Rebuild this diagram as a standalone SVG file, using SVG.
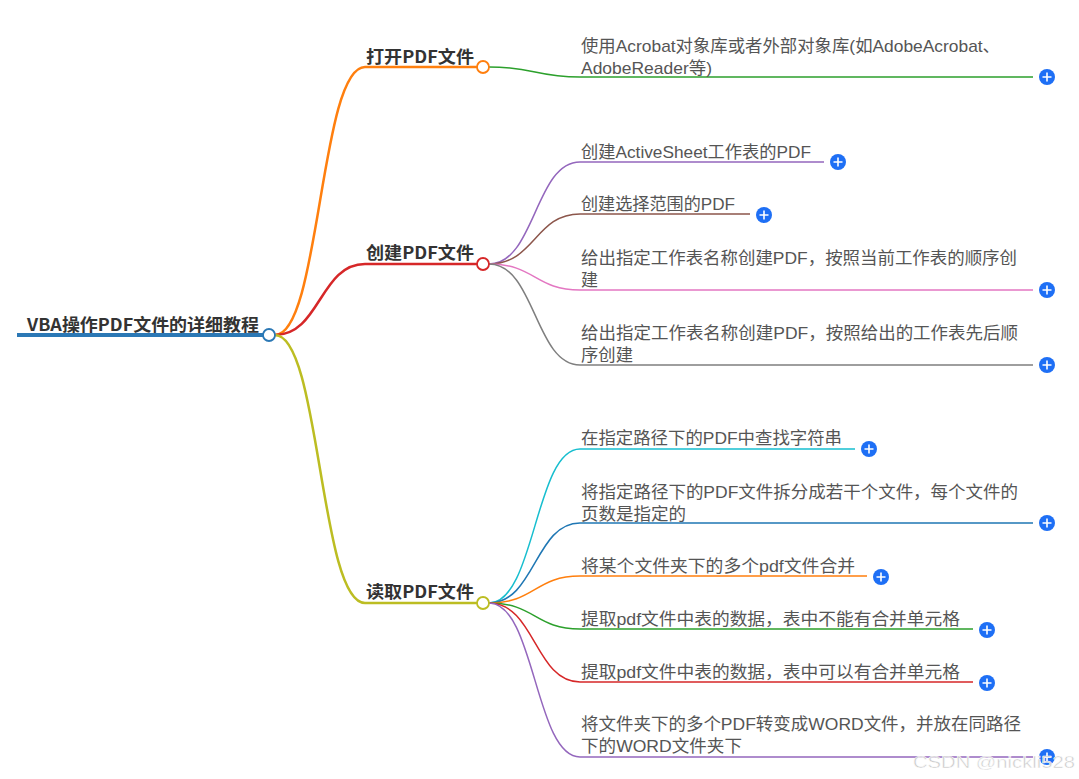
<svg xmlns="http://www.w3.org/2000/svg" width="1079" height="779" viewBox="0 0 1079 779">
<style>
text{font-family:"Noto Sans CJK SC","Liberation Sans",sans-serif;}
.root{font-size:17px;font-weight:bold;fill:#333;}
.br{font-size:17px;font-weight:bold;fill:#333;}
.leaf{font-family:"Liberation Sans","Noto Sans CJK SC",sans-serif;font-size:17px;fill:#555;}
.bl{stroke-width:2.5;fill:none;}
.ll{stroke-width:1.5;fill:none;}
.node{fill:#fff;stroke-width:1.8;}
.wm{font-family:"Liberation Sans",sans-serif;font-size:17px;fill:#c8c8c8;stroke:#fff;stroke-width:0.5;}
</style>
<defs>
<g id="p"><circle r="8" fill="#1e6ff5"/><path d="M-4.5 0H4.5M0 -4.5V4.5" stroke="#fff" stroke-width="1.6"/></g>
</defs>
<rect width="1079" height="779" fill="#fff"/>
<g id="connectors">
<path class="bl" stroke="#ff7f0e" d="M275 335C320 335 320 67 365 67H477"/>
<path class="bl" stroke="#d62728" d="M275 335C320 335 320 264 365 264H477"/>
<path class="bl" stroke="#bcbd22" d="M275 335C320 335 320 603 365 603H477"/>
<path class="ll" stroke="#2ca02c" d="M489 67C535 67 535 77 580 77H1033"/>
<path class="ll" stroke="#9467bd" d="M489 264C535 264 535 162 580 162H824"/>
<path class="ll" stroke="#8c564b" d="M489 264C535 264 535 214 580 214H750"/>
<path class="ll" stroke="#e377c2" d="M489 264C535 264 535 290 580 290H1033"/>
<path class="ll" stroke="#7f7f7f" d="M489 264C535 264 535 365 580 365H1033"/>
<path class="ll" stroke="#17becf" d="M489 603C535 603 535 449 580 449H855"/>
<path class="ll" stroke="#1f77b4" d="M489 603C535 603 535 523 580 523H1033"/>
<path class="ll" stroke="#ff7f0e" d="M489 603C535 603 535 576 580 576H867"/>
<path class="ll" stroke="#2ca02c" d="M489 603C535 603 535 629 580 629H973"/>
<path class="ll" stroke="#d62728" d="M489 603C535 603 535 682 580 682H973"/>
<path class="ll" stroke="#9467bd" d="M489 603C535 603 535 757 580 757H1033"/>
</g>
<g id="root">
<line x1="17" y1="335" x2="263" y2="335" stroke="#2b78b5" stroke-width="4"/>
<text class="root" x="27" y="331" textLength="232" lengthAdjust="spacingAndGlyphs">VBA操作PDF文件的详细教程</text>
<circle class="node" cx="269" cy="335" r="6" stroke="#2b78b5"/>
</g>
<g id="b1">
<text class="br" x="366" y="63" textLength="108" lengthAdjust="spacingAndGlyphs">打开PDF文件</text>
<circle class="node" cx="483" cy="67" r="6" stroke="#ff7f0e"/>
</g>
<g id="b2">
<text class="br" x="366" y="259" textLength="108" lengthAdjust="spacingAndGlyphs">创建PDF文件</text>
<circle class="node" cx="483" cy="264" r="6" stroke="#d62728"/>
</g>
<g id="b3">
<text class="br" x="366" y="598" textLength="108" lengthAdjust="spacingAndGlyphs">读取PDF文件</text>
<circle class="node" cx="483" cy="603" r="6" stroke="#bcbd22"/>
</g>
<g id="l1"><text class="leaf" x="581" y="52" textLength="419" lengthAdjust="spacingAndGlyphs">使用Acrobat对象库或者外部对象库(如AdobeAcrobat、</text><text class="leaf" x="581" y="74" textLength="131" lengthAdjust="spacingAndGlyphs">AdobeReader等)</text><use href="#p" x="1047" y="77"/></g>
<g id="l2"><text class="leaf" x="581" y="158" textLength="230" lengthAdjust="spacingAndGlyphs">创建ActiveSheet工作表的PDF</text><use href="#p" x="838" y="162"/></g>
<g id="l3"><text class="leaf" x="581" y="210" textLength="154" lengthAdjust="spacingAndGlyphs">创建选择范围的PDF</text><use href="#p" x="764" y="215"/></g>
<g id="l4"><text class="leaf" x="581" y="264" textLength="436" lengthAdjust="spacingAndGlyphs">给出指定工作表名称创建PDF，按照当前工作表的顺序创</text><text class="leaf" x="581" y="286">建</text><use href="#p" x="1047" y="290"/></g>
<g id="l5"><text class="leaf" x="581" y="339" textLength="437" lengthAdjust="spacingAndGlyphs">给出指定工作表名称创建PDF，按照给出的工作表先后顺</text><text class="leaf" x="581" y="361" textLength="52" lengthAdjust="spacingAndGlyphs">序创建</text><use href="#p" x="1047" y="365"/></g>
<g id="l6"><text class="leaf" x="581" y="444" textLength="261" lengthAdjust="spacingAndGlyphs">在指定路径下的PDF中查找字符串</text><use href="#p" x="869" y="449"/></g>
<g id="l7"><text class="leaf" x="581" y="498" textLength="437" lengthAdjust="spacingAndGlyphs">将指定路径下的PDF文件拆分成若干个文件，每个文件的</text><text class="leaf" x="581" y="520" textLength="105" lengthAdjust="spacingAndGlyphs">页数是指定的</text><use href="#p" x="1047" y="523"/></g>
<g id="l8"><text class="leaf" x="581" y="572" textLength="274" lengthAdjust="spacingAndGlyphs">将某个文件夹下的多个pdf文件合并</text><use href="#p" x="881" y="577"/></g>
<g id="l9"><text class="leaf" x="581" y="625" textLength="379" lengthAdjust="spacingAndGlyphs">提取pdf文件中表的数据，表中不能有合并单元格</text><use href="#p" x="987" y="630"/></g>
<g id="l10"><text class="leaf" x="581" y="678" textLength="379" lengthAdjust="spacingAndGlyphs">提取pdf文件中表的数据，表中可以有合并单元格</text><use href="#p" x="987" y="683"/></g>
<g id="l11"><text class="leaf" x="581" y="730" textLength="440" lengthAdjust="spacingAndGlyphs">将文件夹下的多个PDF转变成WORD文件，并放在同路径</text><text class="leaf" x="581" y="752" textLength="161" lengthAdjust="spacingAndGlyphs">下的WORD文件夹下</text><use href="#p" x="1047" y="757"/></g>
<text class="wm" x="913" y="768" textLength="162" lengthAdjust="spacingAndGlyphs">CSDN @nickli528</text>
</svg>
